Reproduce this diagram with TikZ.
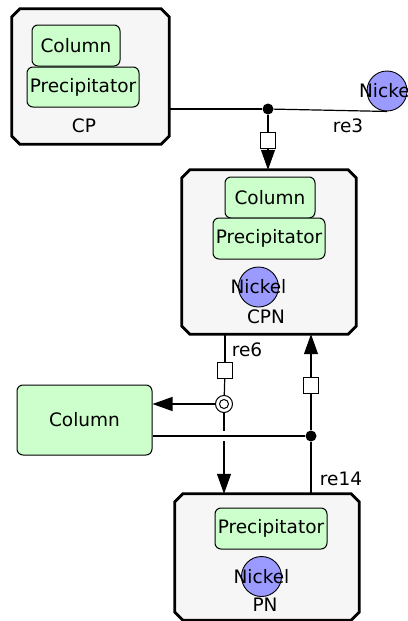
\documentclass[tikz,border=0pt]{standalone}
\usepackage{fontspec}
\setmainfont{DejaVu Sans}
\usetikzlibrary{arrows.meta,calc}
\definecolor{cfill}{HTML}{F6F6F6}
\definecolor{sfill}{HTML}{CCFFCC}
\definecolor{nfill}{HTML}{9A9AFF}
\newcommand\octbox[1]{%
  \filldraw[fill=cfill, line width=2.8pt, line join=miter]
    ([xshift=8pt]#1.north west) -- ([xshift=-8pt]#1.north east) --
    ([yshift=-8pt]#1.north east) -- ([yshift=8pt]#1.south east) --
    ([xshift=-8pt]#1.south east) -- ([xshift=8pt]#1.south west) --
    ([yshift=8pt]#1.south west) -- ([yshift=-8pt]#1.north west) -- cycle;}
\tikzset{
  txt/.style={font=\fontsize{18.5}{22}\selectfont, inner sep=0pt},
  cplx/.style={rectangle, draw=none, inner sep=0pt},
  spec/.style={txt, rectangle, rounded corners=6pt, draw, line width=1pt, fill=sfill},
  nick/.style={circle, draw, line width=0.9pt, fill=nfill, minimum size=40pt, inner sep=0pt},
  conn/.style={line width=1.2pt},
  arr/.style={conn, -{Triangle[width=14pt,length=20pt]}},
  proc/.style={rectangle, draw, fill=white, line width=1pt, minimum width=15pt, minimum height=16pt, inner sep=0pt},
  dotn/.style={circle, fill=black, minimum size=11pt, inner sep=0pt},
  assoc/.style={circle, draw, fill=white, line width=1pt, minimum size=17pt, inner sep=0pt},
}
\begin{document}
\begin{tikzpicture}[x=1pt,y=-1pt]
\clip (0,0) rectangle (407,621);
\useasboundingbox (0,0) rectangle (407,621);
% CP complex
\node[cplx, minimum width=157pt, minimum height=135pt] (CP) at (90.5,76.5) {};
\octbox{CP}
\node[spec, minimum width=88pt, minimum height=41pt] (CPcol) at (76,45.5) {Column};
\node[spec, minimum width=112pt, minimum height=40pt] (CPpre) at (83,87) {Precipitator};
\node[txt] (CPlab) at (84,126) {CP};
% Nickel free
\node[nick, label={[txt]center:Nickel}] (Ni1) at (387,91) {};
% CPN complex
\node[cplx, minimum width=174pt, minimum height=164pt] (CPN) at (269,252) {};
\octbox{CPN}
\node[spec, minimum width=90pt, minimum height=41pt] (CPNcol) at (270,197.5) {Column};
\node[spec, minimum width=112pt, minimum height=41pt] (CPNpre) at (269,238.5) {Precipitator};
\node[nick, label={[txt]center:Nickel}] (Ni2) at (258.5,287) {};
\node[txt] (CPNlab) at (266,317) {CPN};
% PN complex
\node[cplx, minimum width=184pt, minimum height=126pt] (PN) at (267,557) {};
\octbox{PN}
\node[spec, minimum width=112pt, minimum height=41pt] (PNpre) at (271,528.5) {Precipitator};
\node[nick, label={[txt]center:Nickel}] (Ni3) at (261.5,576.5) {};
\node[txt] (PNlab) at (265,605) {PN};
% Column species
\node[spec, minimum width=135pt, minimum height=70pt] (Col) at (84.5,420) {Column};
% re3
\node[dotn] (d3) at (268,109) {};
\node[proc] (s3) at (268,140) {};
\draw[conn] (d3 -| CP.east) -- (d3);
\draw[conn] (d3) -- (Ni1.south);
\draw[conn] (d3) -- (s3);
\draw[arr] (s3) -- (s3 |- CPN.north);
\node[txt] (l3) at (348,126) {re3};
% re6
\node[proc] (s6) at (225,370) {};
\node[assoc] (c6) at (224,404) {};
\draw[line width=1pt] (c6.center) circle (4.5pt);
\draw[conn] (CPN.south -| s6) -- (s6);
\draw[conn] (s6) -- (c6);
\draw[arr] (c6) -- (c6 -| Col.east);
\draw[arr] (c6) -- (c6 |- PN.north);
\node[txt] (l6) at (247,350) {re6};
% re14
\node[dotn] (d14) at (311,436) {};
\node[proc] (s14) at (311,385) {};
\coordinate (x6) at (c6 |- d14);
\draw[white, line width=3pt] ([yshift=5pt]x6) -- ([yshift=-5pt]x6);
\draw[conn] (d14 -| Col.east) -- (d14);
\draw[conn] (PN.north -| d14) -- (d14);
\draw[conn] (d14) -- (s14);
\draw[arr] (s14) -- (s14 |- CPN.south);
\node[txt] (l14) at (341,479) {re14};
\end{tikzpicture}
\end{document}
